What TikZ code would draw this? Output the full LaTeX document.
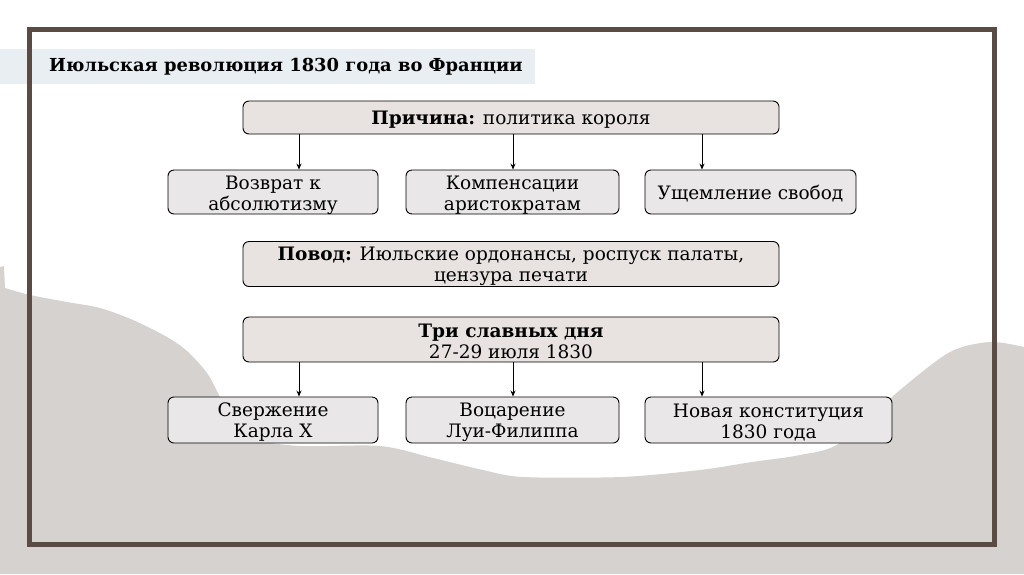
\documentclass[tikz,border=0pt]{standalone}
\usepackage{fontspec}
\setmainfont{DejaVu Serif}
\usetikzlibrary{arrows.meta}
\definecolor{framec}{HTML}{5B4B45}
\definecolor{hillc}{HTML}{D6D2D0}
\definecolor{bandc}{HTML}{E9EEF3}
\definecolor{mainfill}{HTML}{E8E2E0}
\definecolor{subfill}{HTML}{E9E7E7}
\tikzset{
  mainbox/.style={draw=black, line width=0.9pt, fill=mainfill, rounded corners=6pt, inner sep=0pt},
  subbox/.style={draw=black, line width=0.9pt, fill=subfill, rounded corners=6pt, inner sep=0pt},
  boxtext/.style={align=center, inner sep=0pt, font=\fontsize{18.5}{21}\selectfont},
  arr/.style={line width=0.8pt, -{Stealth[length=6pt,width=5pt]}},
}
\begin{document}
\begin{tikzpicture}[x=1pt,y=-1pt]
\useasboundingbox (0,0) rectangle (1024,574);
\fill[white] (0,0) rectangle (1024,574);
% background hill
\fill[hillc] (0,574) -- (0,267) -- (4,266) -- plot[smooth, tension=0.5] coordinates {(5,288) (30,295) (67,302) (100,308) (133,320) (167,337) (187,351) (207,373) (220,397) (233,423) (253,439) (300,446) (380,446) (433,458) (483,470) (523,477) (621,477) (700,470) (752,462) (800,455) (840,443) (900,390) (950,352) (990,342) (1024,347)} -- (1024,574) -- cycle;
% title band
\fill[bandc] (0,49) rectangle (535,84);
\node[anchor=west, inner sep=0pt, font=\fontsize{17.9}{21}\selectfont\bfseries] (title) at (49,67) {Июльская революция 1830 года во Франции};
% frame
\draw[framec, line width=5pt] (29,29.5) rectangle (994,544.5);
% boxes
\node[mainbox, minimum width=536pt, minimum height=33pt] (cause) at (511,117.5) {};
\node[subbox, minimum width=210pt, minimum height=44pt] (r1a) at (273,192) {};
\node[subbox, minimum width=213pt, minimum height=44pt] (r1b) at (512.5,192) {};
\node[subbox, minimum width=211pt, minimum height=44pt] (r1c) at (750.5,192) {};
\node[mainbox, minimum width=536pt, minimum height=45pt] (pretext) at (511,264) {};
\node[mainbox, minimum width=536pt, minimum height=45pt] (days) at (511,339.5) {};
\node[subbox, minimum width=210pt, minimum height=46pt] (r2a) at (273,420) {};
\node[subbox, minimum width=213pt, minimum height=46pt] (r2b) at (512.5,420) {};
\node[subbox, minimum width=247pt, minimum height=46pt] (r2c) at (768.5,420) {};
% texts
\node[boxtext] (causet) at ([yshift=-2pt]cause.center) {\textbf{Причина:} политика короля};
\node[boxtext] (r1at) at ([yshift=-3pt]r1a.center) {Возврат к\\абсолютизму};
\node[boxtext] (r1bt) at ([yshift=-3pt]r1b.center) {Компенсации\\аристократам};
\node[boxtext] (r1ct) at ([yshift=-2pt]r1c.center) {Ущемление свобод};
\node[boxtext] (pretextt) at ([yshift=-2pt]pretext.center) {\textbf{Повод:} Июльские ордонансы, роспуск палаты,\\цензура печати};
\node[boxtext] (dayst) at ([yshift=-2pt]days.center) {\textbf{Три славных дня}\\27-29 июля 1830};
\node[boxtext] (r2at) at ([yshift=-2.5pt]r2a.center) {Свержение\\Карла X};
\node[boxtext] (r2bt) at ([yshift=-2.5pt]r2b.center) {Воцарение\\Луи-Филиппа};
\node[boxtext] (r2ct) at ([yshift=-2.5pt]r2c.center) {Новая конституция\\1830 года};
% arrow columns
\coordinate (ca) at (299,0);
\coordinate (cb) at (513,0);
\coordinate (cc) at (702,0);
\draw[arr] (ca |- cause.south) -- (ca |- r1a.north);
\draw[arr] (cb |- cause.south) -- (cb |- r1b.north);
\draw[arr] (cc |- cause.south) -- (cc |- r1c.north);
\draw[arr] (ca |- days.south) -- (ca |- r2a.north);
\draw[arr] (cb |- days.south) -- (cb |- r2b.north);
\draw[arr] (cc |- days.south) -- (cc |- r2c.north);
\end{tikzpicture}
\end{document}
